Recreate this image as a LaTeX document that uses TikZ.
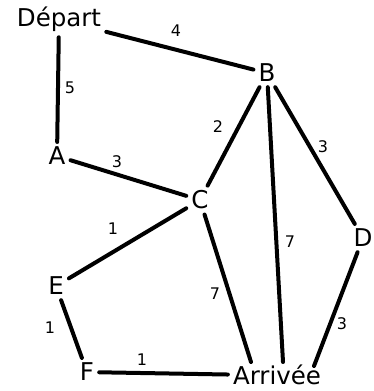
\documentclass[tikz,border=0pt]{standalone}
\usepackage{fontspec}
\setmainfont{DejaVu Sans}
\begin{document}
\begin{tikzpicture}[x=1pt,y=1pt,
  vtx/.style={anchor=base,inner sep=5pt,font=\fontsize{24.5}{28}\selectfont},
  wlab/.style={inner sep=0pt,font=\fontsize{16}{18}\selectfont},
  edge/.style={line width=4pt,line cap=round}]
\useasboundingbox (0,0) rectangle (374,391);
\node[vtx] (dep) at (59,364) {Départ};
\node[vtx] (B) at (267,309) {B};
\node[vtx] (A) at (57,226) {A};
\node[vtx] (C) at (200,182) {C};
\node[vtx] (D) at (363,144) {D};
\node[vtx] (E) at (56,96) {E};
\node[vtx] (F) at (87,10) {F};
\node[vtx] (arr) at (277,6) {Arrivée};
\coordinate (arrC) at (251,29);
\coordinate (arrB) at (283,29);
\coordinate (arrD) at (314,25);
\draw[edge] (dep) -- (B);
\draw[edge] (dep) -- (A);
\draw[edge] (A) -- (C);
\draw[edge] (B) -- (C);
\draw[edge] (B) -- (D);
\draw[edge] (B) -- (arrB);
\draw[edge] (C) -- (E);
\draw[edge] (C) -- (arrC);
\draw[edge] (D) -- (arrD);
\draw[edge] (E) -- (F);
\draw[edge] (F) -- (arr);
\node[wlab] (l4) at (176,360) {4};
\node[wlab] (l5) at (70,303) {5};
\node[wlab] (l2) at (218,264) {2};
\node[wlab] (l3a) at (323,244) {3};
\node[wlab] (l3b) at (117,229) {3};
\node[wlab] (l1a) at (113,162) {1};
\node[wlab] (l7a) at (290,149) {7};
\node[wlab] (l7b) at (215,97) {7};
\node[wlab] (l1b) at (50,63) {1};
\node[wlab] (l1c) at (142,31) {1};
\node[wlab] (l3c) at (342,67) {3};
\end{tikzpicture}
\end{document}
